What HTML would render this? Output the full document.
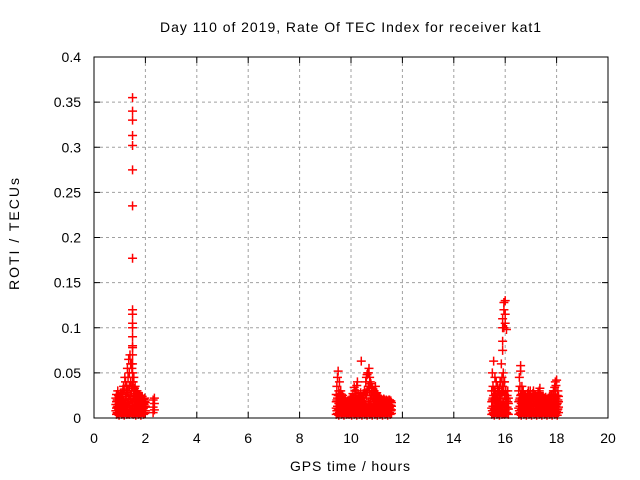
<!DOCTYPE html>
<html><head><meta charset="utf-8"><style>
body{margin:0;background:#fff;}
svg{display:block;font-family:"Liberation Sans",sans-serif;}
</style></head><body>
<svg id="chart" width="640" height="480">
<text x="160" y="32" font-size="14" textLength="381" lengthAdjust="spacing">Day 110 of 2019, Rate Of TEC Index for receiver kat1</text>
<text x="290" y="471" font-size="14" textLength="120" lengthAdjust="spacing">GPS time / hours</text>
<text transform="translate(19,290) rotate(-90)" font-size="14" textLength="112" lengthAdjust="spacing">ROTI / TECUs</text>
<g id="grid"></g><g id="ticks"></g><g id="marks"></g>
<rect x="94" y="57" width="514" height="361" fill="none" stroke="#000" stroke-width="1"/>
</svg>
<script>
const xTicks=[0,2,4,6,8,10,12,14,16,18,20];
const yTicks=[0,0.05,0.1,0.15,0.2,0.25,0.3,0.35,0.4];
const yTickLabels=["0","0.05","0.1","0.15","0.2","0.25","0.3","0.35","0.4"];
const obsTimes=[0.85,0.9,0.95,1.0,1.05,1.1,1.15,1.2,1.25,1.3,1.35,1.4,1.45,1.5,1.55,1.6,1.65,1.7,1.75,1.8,1.85,1.9,1.95,2.0,2.3,2.35,
9.45,9.5,9.55,9.6,9.65,9.7,9.75,9.8,9.9,10.0,10.1,10.15,10.2,10.25,10.3,10.4,10.5,10.6,10.65,10.7,10.75,10.8,10.9,10.95,11.0,11.1,11.2,11.3,11.4,11.5,11.55,
15.5,15.55,15.6,15.65,15.7,15.75,15.8,15.85,15.9,15.95,16.0,16.05,16.1,16.55,16.6,16.65,16.7,16.8,16.9,17.0,17.1,17.2,17.3,17.35,17.4,17.5,17.6,17.7,17.8,17.9,17.95,18.0,18.05];
const obsRoti=[[0.008,0.015,0.022],[0.006,0.012,0.02],[0.01,0.018,0.025],[0.007,0.014,0.021],[0.009,0.016,0.024],[0.006,0.013,0.028],[0.01,0.019,0.035],[0.008,0.015,0.045],[0.007,0.02,0.03],[0.009,0.017,0.055],[0.006,0.022,0.065],[0.01,0.025,0.07],[0.008,0.03,0.06],
[0.012,0.04,0.05,0.06,0.07,0.078,0.08,0.09,0.1,0.105,0.115,0.12,0.177,0.235,0.275,0.302,0.313,0.33,0.34,0.355],
[0.009,0.025,0.045],[0.007,0.02,0.035],[0.01,0.018,0.03],[0.006,0.015,0.028],[0.008,0.02,0.025],[0.009,0.014,0.022],[0.007,0.016,0.02],[0.01,0.012,0.018],[0.006,0.015,0.02],[0.008,0.013,0.017],[0.006,0.012,0.02],[0.009,0.016,0.022],
[0.008,0.02,0.035],[0.01,0.025,0.052],[0.006,0.018,0.04],[0.009,0.015,0.03],[0.007,0.02,0.025],[0.01,0.016,0.022],[0.008,0.014,0.02],[0.006,0.012,0.018],[0.005,0.01,0.015],[0.008,0.013,0.02],[0.006,0.015,0.022],[0.009,0.02,0.03],[0.007,0.018,0.025],[0.008,0.02,0.04],[0.006,0.015,0.02],[0.009,0.016,0.063],[0.007,0.018,0.025],[0.01,0.025,0.045],[0.008,0.03,0.05],[0.009,0.035,0.055],[0.006,0.02,0.04],[0.01,0.025,0.035],[0.008,0.02,0.03],[0.007,0.018,0.035],[0.009,0.015,0.028],[0.006,0.014,0.022],[0.008,0.012,0.02],[0.007,0.015,0.02],[0.009,0.013,0.018],[0.006,0.012,0.02],[0.008,0.014,0.019],
[0.008,0.02,0.05],[0.006,0.025,0.063],[0.01,0.03,0.045],[0.007,0.02,0.04],[0.009,0.025,0.035],[0.006,0.018,0.03],[0.008,0.022,0.04],[0.01,0.03,0.06],[0.007,0.035,0.075,0.085,0.1,0.11],[0.009,0.04,0.1,0.12,0.128],[0.008,0.03,0.105,0.115,0.13],[0.006,0.02,0.098],[0.01,0.018,0.03],[0.008,0.02,0.045],[0.006,0.025,0.052,0.058],[0.009,0.02,0.035],[0.007,0.018,0.03],[0.01,0.015,0.025],[0.008,0.02,0.03],[0.006,0.014,0.025],[0.009,0.018,0.03],[0.007,0.015,0.022],[0.01,0.02,0.028],[0.008,0.016,0.033],[0.006,0.013,0.02],[0.009,0.015,0.022],[0.007,0.012,0.02],[0.01,0.014,0.018],[0.008,0.016,0.025],[0.006,0.02,0.03],[0.009,0.025,0.04],[0.007,0.015,0.042],[0.01,0.02,0.03]];
const denseTimes=[0.875,0.925,0.975,1.025,1.075,1.125,1.175,1.225,1.275,1.325,1.375,1.425,1.475,1.525,1.575,1.625,1.675,1.725,1.775,1.825,1.875,1.925,1.975,
9.425,9.475,9.525,9.575,9.625,9.675,9.725,9.775,9.825,9.875,9.925,9.975,10.025,10.075,10.125,10.175,10.225,10.275,10.325,10.375,10.425,10.475,10.525,10.575,10.625,10.675,10.725,10.775,10.825,10.875,10.925,10.975,11.025,11.075,11.125,11.175,11.225,11.275,11.325,11.375,11.425,11.475,11.525,11.575,
15.475,15.525,15.575,15.625,15.675,15.725,15.775,15.825,15.875,15.925,15.975,16.025,16.075,16.125,
16.525,16.575,16.625,16.675,16.725,16.775,16.825,16.875,16.925,16.975,17.025,17.075,17.125,17.175,17.225,17.275,17.325,17.375,17.425,17.475,17.525,17.575,17.625,17.675,17.725,17.775,17.825,17.875,17.925,17.975,18.025,18.075];
const denseRoti=[[0.004,0.011,0.018,0.026],[0.005,0.013,0.02,0.03],[0.003,0.009,0.016,0.023],[0.006,0.014,0.022,0.027],[0.004,0.011,0.018,0.026],[0.005,0.013,0.02,0.03],[0.003,0.009,0.016,0.032],[0.006,0.014,0.024,0.04],[0.004,0.012,0.028,0.036],[0.005,0.016,0.03,0.045],[0.004,0.014,0.035,0.05],[0.006,0.02,0.04,0.06],[0.005,0.018,0.035,0.055],[0.004,0.02,0.03,0.04],[0.005,0.013,0.024,0.033],[0.003,0.01,0.018,0.027],[0.006,0.014,0.022,0.03],[0.004,0.011,0.018,0.026],[0.005,0.013,0.02,0.025],[0.003,0.009,0.016,0.023],[0.006,0.014,0.02,0.024],[0.004,0.011,0.016,0.021],[0.005,0.012,0.018,0.022],
[0.004,0.011,0.018,0.026],[0.005,0.013,0.022,0.045],[0.003,0.009,0.016,0.03],[0.006,0.014,0.022,0.027],[0.004,0.011,0.018,0.024],[0.005,0.013,0.02,0.025],[0.003,0.009,0.016,0.021],[0.006,0.012,0.018,0.022],[0.004,0.008,0.013,0.018],[0.005,0.01,0.014,0.019],[0.004,0.009,0.015,0.02],[0.005,0.011,0.017,0.022],[0.003,0.009,0.016,0.023],[0.006,0.014,0.022,0.027],[0.004,0.011,0.018,0.034],[0.005,0.013,0.02,0.03],[0.003,0.009,0.016,0.036],[0.006,0.014,0.022,0.027],[0.004,0.011,0.018,0.024],[0.005,0.013,0.02,0.028],[0.003,0.009,0.016,0.023],[0.006,0.014,0.022,0.027],[0.004,0.011,0.018,0.03],[0.005,0.015,0.028,0.04],[0.003,0.012,0.03,0.048],[0.006,0.018,0.035,0.05],[0.004,0.015,0.03,0.045],[0.005,0.013,0.025,0.038],[0.003,0.012,0.022,0.033],[0.006,0.014,0.022,0.03],[0.004,0.011,0.018,0.028],[0.005,0.013,0.02,0.027],[0.003,0.009,0.016,0.025],[0.006,0.014,0.02,0.024],[0.004,0.011,0.018,0.022],[0.005,0.012,0.017,0.021],[0.003,0.009,0.015,0.02],[0.006,0.012,0.017,0.021],[0.004,0.01,0.015,0.019],[0.005,0.011,0.016,0.02],[0.003,0.009,0.014,0.019],[0.006,0.011,0.015,0.02],[0.004,0.01,0.014,0.018],[0.005,0.009,0.013,0.017],
[0.004,0.011,0.018,0.03],[0.005,0.013,0.022,0.035],[0.003,0.009,0.02,0.03],[0.006,0.014,0.022,0.027],[0.004,0.011,0.018,0.026],[0.005,0.013,0.02,0.03],[0.003,0.012,0.022,0.033],[0.006,0.016,0.026,0.04],[0.004,0.014,0.028,0.045],[0.005,0.016,0.03,0.05],[0.004,0.014,0.025,0.04],[0.006,0.012,0.022,0.03],[0.005,0.012,0.018,0.025],[0.004,0.01,0.016,0.022],
[0.004,0.011,0.018,0.03],[0.005,0.013,0.022,0.035],[0.003,0.009,0.016,0.026],[0.006,0.014,0.022,0.027],[0.004,0.011,0.018,0.026],[0.005,0.013,0.02,0.025],[0.003,0.009,0.016,0.023],[0.006,0.014,0.022,0.027],[0.004,0.011,0.018,0.026],[0.005,0.013,0.02,0.03],[0.003,0.009,0.016,0.023],[0.006,0.014,0.022,0.027],[0.004,0.011,0.018,0.026],[0.005,0.013,0.02,0.025],[0.003,0.009,0.016,0.023],[0.006,0.014,0.022,0.027],[0.004,0.011,0.018,0.03],[0.005,0.013,0.02,0.025],[0.003,0.009,0.016,0.023],[0.006,0.014,0.02,0.024],[0.004,0.011,0.018,0.022],[0.005,0.013,0.018,0.023],[0.003,0.009,0.016,0.021],[0.006,0.012,0.018,0.022],[0.004,0.011,0.017,0.024],[0.005,0.013,0.02,0.025],[0.003,0.009,0.016,0.026],[0.006,0.014,0.022,0.03],[0.004,0.011,0.018,0.034],[0.005,0.013,0.022,0.036],[0.003,0.009,0.016,0.025],[0.006,0.012,0.018,0.024]];
const L=94,R=608,T=57,B=418;
function xs(t){return L+(t-0)/(20-0)*(R-L);}
function ys(v){return B-(v-0)/(0.4-0)*(B-T);}
const NS="http://www.w3.org/2000/svg";
const grid=document.getElementById('grid'),ticks=document.getElementById('ticks'),marks=document.getElementById('marks');
function mk(tag,attrs,parent){const e=document.createElementNS(NS,tag);for(const k in attrs)e.setAttribute(k,attrs[k]);parent.appendChild(e);return e;}
xTicks.forEach(function(t){
  const x=xs(t);
  if(t>0&&t<20){const g=mk('line',{x1:x,x2:x,y1:T,y2:B,stroke:'#a0a0a0','stroke-dasharray':'3,3','stroke-width':1},grid);
  
  }
  const tk=mk('path',{d:'M'+x+' '+B+'v-6M'+x+' '+T+'v6',stroke:'#000'},ticks);
  
  
  const lb=mk('text',{x:x,y:B+25,'font-size':14,'text-anchor':'middle'},ticks);lb.textContent=t;
  
  
});
yTicks.forEach(function(v,i){
  const y=ys(v);
  if(i>0&&i<yTicks.length-1){const g=mk('line',{x1:L,x2:R,y1:y,y2:y,stroke:'#a0a0a0','stroke-dasharray':'3,3','stroke-width':1},grid);
  
  }
  const tk=mk('path',{d:'M'+L+' '+y+'h6M'+R+' '+y+'h-6',stroke:'#000'},ticks);
  
  
  const lb=mk('text',{x:L-13,y:y+5,'font-size':14,'text-anchor':'end'},ticks);lb.textContent=yTickLabels[i];
  
  
});
function plotSet(times,vals){
  times.forEach(function(t,i){
    vals[i].forEach(function(v){
      const x=xs(t),y=ys(v);
      const p=mk('path',{d:'M'+(x-4.5)+' '+y+'h9M'+x+' '+(y-4.5)+'v9',stroke:'#ff0000','stroke-width':1.5},marks);
      
      
    });
  });
}
plotSet(obsTimes,obsRoti);
plotSet(denseTimes,denseRoti);
</script>
</body></html>
